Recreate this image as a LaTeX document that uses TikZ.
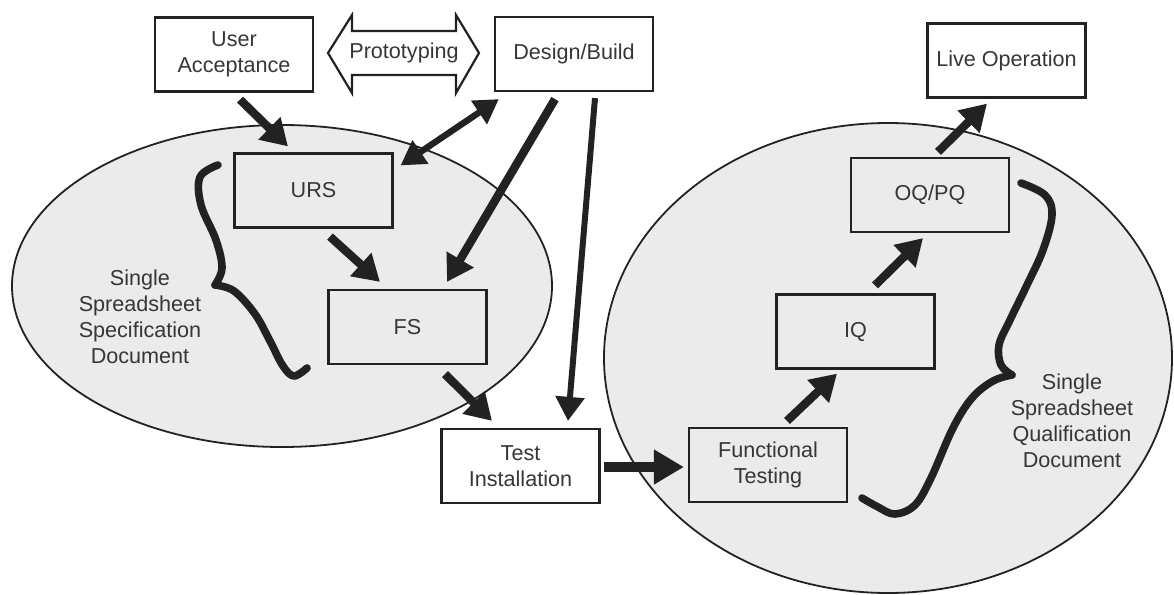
\documentclass[tikz,border=0pt]{standalone}
\usepackage{fontspec}
\setmainfont{Liberation Sans}
\usetikzlibrary{arrows.meta,calc}
\definecolor{ink}{HTML}{222222}
\definecolor{txt}{HTML}{363636}
\definecolor{blob}{HTML}{EBEBEB}

\begin{document}
\begin{tikzpicture}[x=0.5pt,y=-0.5pt,
  lbl/.style={align=center, text=txt, font=\fontsize{10.8}{13}\selectfont, inner sep=0pt},
  box/.style={lbl, draw=ink, line width=1.1pt, minimum width=79pt, minimum height=37pt},
  blobshape/.style={draw=ink, line width=0.9pt, fill=blob},
  flow/.style={draw=ink, line width=4.2pt, -{Triangle[length=13pt,width=15pt]}},
  bigflow/.style={draw=ink, line width=5pt, -{Triangle[length=15pt,width=16.5pt]}},
  thinflow/.style={draw=ink, line width=3pt, -{Triangle[length=12pt,width=14pt]}},
  twoway/.style={draw=ink, line width=3.2pt, {Triangle[length=12pt,width=13.5pt]}-{Triangle[length=12pt,width=13.5pt]}},
  brace/.style={draw=ink, line width=3.8pt, line cap=round, line join=round},
]
\useasboundingbox (0,0) rectangle (1174,595);

% the two document groupings
\path[blobshape] (282,286) ellipse [x radius=270, y radius=161];
\path[blobshape] (888,358) ellipse [x radius=284, y radius=235];

% prototyping double arrow outline
\draw[ink, line width=1.1pt, line join=miter, fill=white]
  (328,53) -- (352,15) -- (352,31) -- (456,31) -- (456,15) -- (479,53)
  -- (456,93) -- (456,75) -- (352,75) -- (352,93) -- cycle;
\node[lbl] (proto) at (404,53) {Prototyping};

% process boxes
\node[box] (UA)  at (234,54.5)   {User\\Acceptance};
\node[box] (DB)  at (574,54)     {Design/Build};
\node[box] (LO)  at (1006.5,60.5){Live Operation};
\node[box] (URS) at (313.5,190.5){URS};
\node[box] (FS)  at (407.5,327)  {FS};
\node[box] (TI)  at (520.5,466)  {Test\\Installation};
\node[box] (FT)  at (768,465)    {Functional\\Testing};
\node[box] (IQ)  at (855.5,331.5){IQ};
\node[box] (OQ)  at (930,195)    {OQ/PQ};

% group labels
\node[lbl] (specdoc) at (140,317) {Single\\Spreadsheet\\Specification\\Document};
\node[lbl] (qualdoc) at (1072,421) {Single\\Spreadsheet\\Qualification\\Document};

% braces
\draw[brace] plot[smooth, tension=0.6] coordinates
  {(218,165) (200,177) (201,205) (216,240) (222,268) (215,285)};
\draw[brace] plot[smooth, tension=0.6] coordinates
  {(215,285) (234,291) (255,314) (270,341) (283,366) (294,376) (307,368)};
\draw[brace] plot[smooth, tension=0.6] coordinates
  {(1021,183) (1045,195) (1052,215) (1043,250) (1027,285) (1010,320) (999,345) (1001,365) (1012,375)};
\draw[brace] plot[smooth, tension=0.6] coordinates
  {(1012,375) (993,381) (972,398) (953,428) (931,478) (915,505) (895,514) (878,507) (862,498)};

% connectors
\draw[flow] ($(UA.south)+(6,7)$) -- ($(URS.north)+(-25.5,-6)$);
\draw[twoway] ($(URS.north east)+(7,13)$) -- ($(DB.south west)+(5,7)$);
\draw[flow] ($(DB.south)+(-19,7)$) -- ($(FS.north)+(39.5,-7)$);
\draw[thinflow] ($(DB.south)+(21,6)$) -- ($(TI.north)+(47.5,-7)$);
\draw[flow] ($(URS.south)+(16.5,8)$) -- ($(FS.north)+(-27.5,-7)$);
\draw[flow] ($(FS.south)+(37.5,9)$) -- ($(TI.north)+(-28.5,-7)$);
\draw[bigflow] ($(TI.east)+(3,1)$) -- ($(FT.west)+(-4,2)$);
\draw[flow] ($(FT.north)+(19,-6)$) -- ($(IQ.south)+(-18.5,4)$);
\draw[flow] ($(IQ.north)+(19.5,-8)$) -- ($(OQ.south)+(-7,5)$);
\draw[flow] ($(OQ.north)+(8,-5)$) -- ($(LO.south)+(-19.5,5)$);
\end{tikzpicture}
\end{document}
